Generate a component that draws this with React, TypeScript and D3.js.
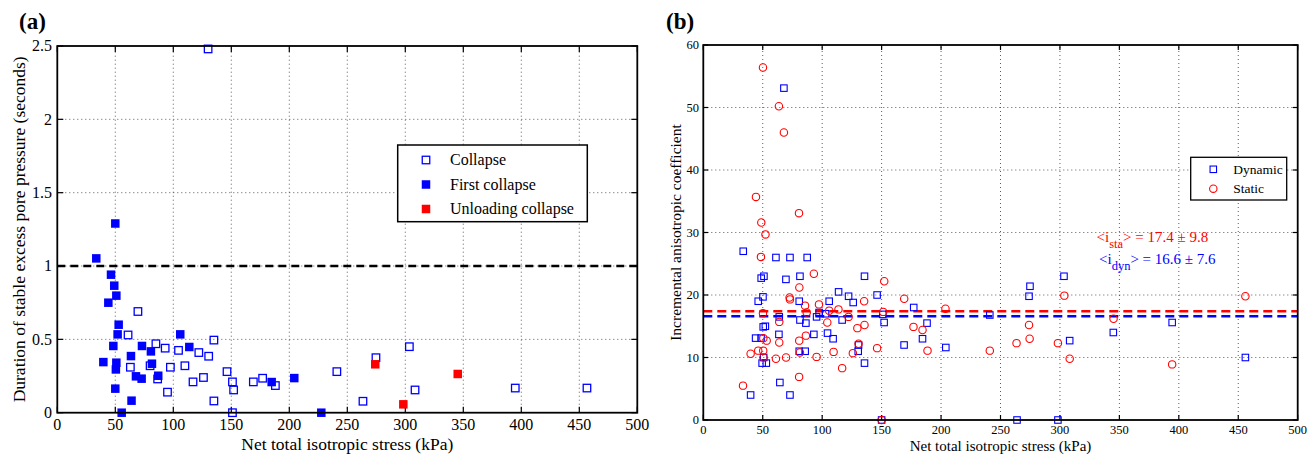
import React from "react";
import * as d3 from "d3";

// ---------- Panel (a) data: [net total isotropic stress (kPa), duration (s)] ----------
const collapseA: [number, number][] = [
  [69.5, 0.69], [61, 0.53], [63, 0.31], [85, 0.47], [93, 0.44], [80, 0.32], [86.5, 0.23],
  [95, 0.14], [97.5, 0.31], [104.5, 0.425], [110, 0.32], [117, 0.21], [122, 0.41], [126, 0.24],
  [130.5, 0.385], [135, 0.495], [135, 0.08], [146.3, 0.28], [151, 0.21], [152, 0.155], [151, 0],
  [169, 0.21], [177, 0.235], [188, 0.185], [130, 2.48], [241, 0.28], [274.7, 0.375], [303.5, 0.45],
  [263.5, 0.078], [308.4, 0.155], [394.8, 0.168], [456.6, 0.168],
];
const firstCollapseA: [number, number][] = [
  [50, 1.29], [33.6, 1.052], [46.3, 0.941], [49.1, 0.866], [50.9, 0.798], [44, 0.75], [52.9, 0.6],
  [52, 0.534], [48.3, 0.455], [39.7, 0.345], [50.9, 0.341], [50.5, 0.295], [50, 0.164], [55.5, 0],
  [64, 0.082], [63.5, 0.386], [73, 0.455], [67.8, 0.248], [72.7, 0.232], [80.7, 0.418], [81.6, 0.334],
  [87, 0.252], [106, 0.534], [113.8, 0.448], [184.8, 0.209], [204.3, 0.236], [227.6, 0],
];
const unloadingA: [number, number][] = [[274.1, 0.33], [298.3, 0.057], [345.2, 0.264]];
const thresholdA = 1;
const xTicksA = [0, 50, 100, 150, 200, 250, 300, 350, 400, 450, 500];
const yTicksA = [0, 0.5, 1, 1.5, 2, 2.5];
const legendA = ["Collapse", "First collapse", "Unloading collapse"];

// ---------- Panel (b) data: [net total isotropic stress (kPa), incremental anisotropic coefficient] ----------
const dynamicB: [number, number][] = [
  [33.6, 27], [39.8, 4], [44, 13.1], [46.2, 19], [48.7, 22.7], [51, 23], [50.2, 19.7], [50.4, 14.9],
  [52.2, 15], [48.6, 13.1], [50.8, 10], [49.5, 9.1], [53, 9.1], [61.1, 26], [72.9, 26], [87.4, 26],
  [67.8, 53.1], [69.5, 22.5], [63.9, 16.5], [63.6, 13.7], [64.4, 6], [72.9, 4], [81.3, 23], [80.7, 19],
  [81.3, 16], [80.7, 11], [85.7, 11], [86.3, 15.5], [93, 13.7], [95.3, 16.5], [97.4, 17.2], [102.8, 17],
  [105.9, 19], [104.5, 13.9], [109.2, 13], [113.8, 20.5], [116.8, 16], [122.2, 19.8], [126.1, 18.8],
  [130.6, 12], [130.3, 11], [135.6, 23], [135.6, 9.1], [146.2, 20], [152.1, 15.6], [151, 16.9], [150, 0],
  [168.9, 12], [177, 18], [184.4, 13], [188.2, 15.5], [204, 11.6], [241, 16.8], [263.9, 0], [274, 19.8],
  [274.8, 21.4], [298.3, 0], [303.4, 23], [308.2, 12.7], [344.9, 14], [394.4, 15.6], [456, 10],
];
const staticB: [number, number][] = [
  [50.2, 56.4], [63.6, 50.2], [67.8, 46], [44.3, 35.7], [48.8, 31.6], [52.3, 29.7], [48.5, 26.1],
  [80.5, 33.1], [93, 23.4], [80.8, 21.2], [72.6, 19.6], [72.9, 19.3], [50.2, 17.1], [85.6, 18.3],
  [97.3, 18.5], [105.9, 17.5], [113.7, 17.7], [87, 17.2], [122.2, 16.5], [135.3, 19.0], [152.2, 22.2],
  [151.3, 17.3], [169, 19.4], [176.8, 14.9], [184.4, 14.4], [63.9, 15.7], [63.9, 12.4], [39.8, 10.6],
  [46.2, 11.1], [50.4, 11.1], [50.5, 13.1], [53.3, 12.7], [50.6, 10], [61.1, 9.8], [69.6, 10],
  [33.4, 5.5], [80.6, 6.9], [80.7, 12.7], [81.3, 10.8], [86.3, 13.5], [95.3, 10.1], [104.3, 15.6],
  [109.6, 10.9], [116.8, 8.3], [125.8, 10.7], [129.6, 14.7], [130.6, 12.2], [135.6, 15.2], [146.2, 11.5],
  [150, 0], [188.6, 11.1], [203.7, 17.8], [241, 11.1], [263.5, 12.3], [274.5, 13], [274, 15.2],
  [298.3, 12.3], [303.7, 19.9], [308.2, 9.8], [345.1, 16.2], [394.4, 8.9], [456, 19.8],
];
const meanSta = 17.4;
const sdSta = 9.8;
const meanDyn = 16.6;
const sdDyn = 7.6;
const xTicksB = [0, 50, 100, 150, 200, 250, 300, 350, 400, 450, 500];
const yTicksB = [0, 10, 20, 30, 40, 50, 60];
const legendB = ["Dynamic", "Static"];

const FONT = "Liberation Serif";
const BLUE = "#0000ff";
const RED = "#ff0000";
const txt = { fontFamily: FONT };

function Frame({ x, y, xTicks, yTicks, tickLen, fontSize, xFmt, yFmt, xLabelY, yLabelX }: any) {
  const [x0, x1] = x.range();
  const [y0, y1] = y.range(); // y0 bottom, y1 top
  return (
    <g>
      {xTicks.slice(1, -1).map((t: number) => (
        <line key={"gx" + t} x1={x(t)} x2={x(t)} y1={y0} y2={y1} stroke="#333" strokeWidth={0.8} strokeDasharray="1 3" />
      ))}
      {yTicks.slice(1, -1).map((t: number) => (
        <line key={"gy" + t} x1={x0} x2={x1} y1={y(t)} y2={y(t)} stroke="#333" strokeWidth={0.8} strokeDasharray="1 3" />
      ))}
      {xTicks.map((t: number) => (
        <g key={"tx" + t}>
          <line x1={x(t)} x2={x(t)} y1={y0} y2={y0 - tickLen} stroke="#000" strokeWidth={1.2} />
          <line x1={x(t)} x2={x(t)} y1={y1} y2={y1 + tickLen} stroke="#000" strokeWidth={1.2} />
          <text x={x(t)} y={xLabelY} textAnchor="middle" fontSize={fontSize} style={txt}>{xFmt(t)}</text>
        </g>
      ))}
      {yTicks.map((t: number) => (
        <g key={"ty" + t}>
          <line x1={x0} x2={x0 + tickLen} y1={y(t)} y2={y(t)} stroke="#000" strokeWidth={1.2} />
          <line x1={x1} x2={x1 - tickLen} y1={y(t)} y2={y(t)} stroke="#000" strokeWidth={1.2} />
          <text x={yLabelX} y={y(t)} dy="0.33em" textAnchor="end" fontSize={fontSize} style={txt}>{yFmt(t)}</text>
        </g>
      ))}
    </g>
  );
}

function Box({ x, y }: any) {
  const [x0, x1] = x.range();
  const [y0, y1] = y.range();
  return <rect x={x0} y={y1} width={x1 - x0} height={y0 - y1} fill="none" stroke="#000" strokeWidth={1.8} />;
}

export default function App() {
  const xa = d3.scaleLinear().domain([0, 500]).range([57.3, 637.3]);
  const ya = d3.scaleLinear().domain([0, 2.5]).range([412.7, 46]);
  const xb = d3.scaleLinear().domain([0, 500]).range([703.3, 1297.7]);
  const yb = d3.scaleLinear().domain([0, 60]).range([420, 45]);

  const fmtA = (v: number) => d3.format("~g")(v);
  const sa = 7.5;
  const sf = 8.5;
  const sb = 6.5;
  const rb = 3.7;

  return (
    <svg width={1307} height={454} style={{ position: "absolute", left: 0, top: 0, background: "#fff" }}>
      <rect x={0} y={0} width={1307} height={454} fill="#fff" />
      {/* ===== Panel (a) ===== */}
      <text x={19} y={29} fontSize={23} fontWeight="bold" style={txt}>(a)</text>
      <Frame x={xa} y={ya} xTicks={xTicksA} yTicks={yTicksA} tickLen={6} fontSize={16}
        xFmt={fmtA} yFmt={fmtA} xLabelY={430} yLabelX={52} />
      <line x1={xa(0)} x2={xa(500)} y1={ya(thresholdA)} y2={ya(thresholdA)} stroke="#000" strokeWidth={2.6} strokeDasharray="8 5" />
      {collapseA.map(([a, b], i) => (
        <rect key={"ca" + i} x={xa(a) - sa / 2} y={ya(b) - sa / 2} width={sa} height={sa} fill="none" stroke={BLUE} strokeWidth={1.3} />
      ))}
      {firstCollapseA.map(([a, b], i) => (
        <rect key={"fa" + i} x={xa(a) - sf / 2} y={ya(b) - sf / 2} width={sf} height={sf} fill={BLUE} />
      ))}
      {unloadingA.map(([a, b], i) => (
        <rect key={"ua" + i} x={xa(a) - sf / 2} y={ya(b) - sf / 2} width={sf} height={sf} fill={RED} />
      ))}
      <Box x={xa} y={ya} />
      <text x={(xa(0) + xa(500)) / 2} y={450} textAnchor="middle" fontSize={17.5} style={txt}>Net total isotropic stress (kPa)</text>
      <text transform={`translate(25,${(ya(0) + ya(2.5)) / 2}) rotate(-90)`} textAnchor="middle" fontSize={17.5} style={txt}>
        Duration of stable excess pore pressure (seconds)
      </text>
      <g>
        <rect x={397.7} y={145} width={189.6} height={76.7} fill="#fff" stroke="#000" strokeWidth={1.5} />
        {legendA.map((name, i) => {
          const cy = 160 + i * 24.5;
          return (
            <g key={name}>
              {i === 0 ? (
                <rect x={426 - sa / 2} y={cy - sa / 2} width={sa} height={sa} fill="none" stroke={BLUE} strokeWidth={1.3} />
              ) : (
                <rect x={426 - sf / 2} y={cy - sf / 2} width={sf} height={sf} fill={i === 1 ? BLUE : RED} />
              )}
              <text x={450} y={cy + 5} fontSize={16} style={txt}>{name}</text>
            </g>
          );
        })}
      </g>

      {/* ===== Panel (b) ===== */}
      <text x={666} y={29} fontSize={23} fontWeight="bold" style={txt}>(b)</text>
      <Frame x={xb} y={yb} xTicks={xTicksB} yTicks={yTicksB} tickLen={5} fontSize={12.5}
        xFmt={(v: number) => String(v)} yFmt={(v: number) => String(v)} xLabelY={434} yLabelX={699} />
      <line x1={xb(0)} x2={xb(500)} y1={yb(meanSta)} y2={yb(meanSta)} stroke={RED} strokeWidth={2.4} strokeDasharray="9 5" />
      <line x1={xb(0)} x2={xb(500)} y1={yb(meanDyn)} y2={yb(meanDyn)} stroke={BLUE} strokeWidth={2.4} strokeDasharray="9 5" />
      {dynamicB.map(([a, b], i) => (
        <rect key={"db" + i} x={xb(a) - sb / 2} y={yb(b) - sb / 2} width={sb} height={sb} fill="none" stroke={BLUE} strokeWidth={1.1} />
      ))}
      {staticB.map(([a, b], i) => (
        <circle key={"sb" + i} cx={xb(a)} cy={yb(b)} r={rb} fill="none" stroke={RED} strokeWidth={1.1} />
      ))}
      <Box x={xb} y={yb} />
      <text x={(xb(0) + xb(500)) / 2} y={450.5} textAnchor="middle" fontSize={15} style={txt}>Net total isotropic stress (kPa)</text>
      <text transform={`translate(681,${(yb(0) + yb(60)) / 2}) rotate(-90)`} textAnchor="middle" fontSize={15.5} style={txt}>
        Incremental anisotropic coefficient
      </text>
      <text x={1096.5} y={242} fontSize={15} style={txt} fill={RED}>
        {"<i"}
        <tspan fontSize={12.5} dy={6}>sta</tspan>
        <tspan dy={-6}>{`> = ${meanSta} \u00b1 ${sdSta}`}</tspan>
      </text>
      <text x={1099} y={264} fontSize={15} style={txt} fill={BLUE}>
        {"<i"}
        <tspan fontSize={12.5} dy={6}>dyn</tspan>
        <tspan dy={-6}>{`> = ${meanDyn} \u00b1 ${sdDyn}`}</tspan>
      </text>
      <g>
        <rect x={1190.7} y={157.3} width={96} height={42.7} fill="#fff" stroke="#000" strokeWidth={1.3} />
        {legendB.map((name, i) => {
          const cy = 169.3 + i * 19.4;
          return (
            <g key={name}>
              {i === 0 ? (
                <rect x={1213.3 - sb / 2} y={cy - sb / 2} width={sb} height={sb} fill="none" stroke={BLUE} strokeWidth={1.1} />
              ) : (
                <circle cx={1213.3} cy={cy} r={rb} fill="none" stroke={RED} strokeWidth={1.1} />
              )}
              <text x={1233.3} y={cy + 4.5} fontSize={13.5} style={txt}>{name}</text>
            </g>
          );
        })}
      </g>
    </svg>
  );
}
